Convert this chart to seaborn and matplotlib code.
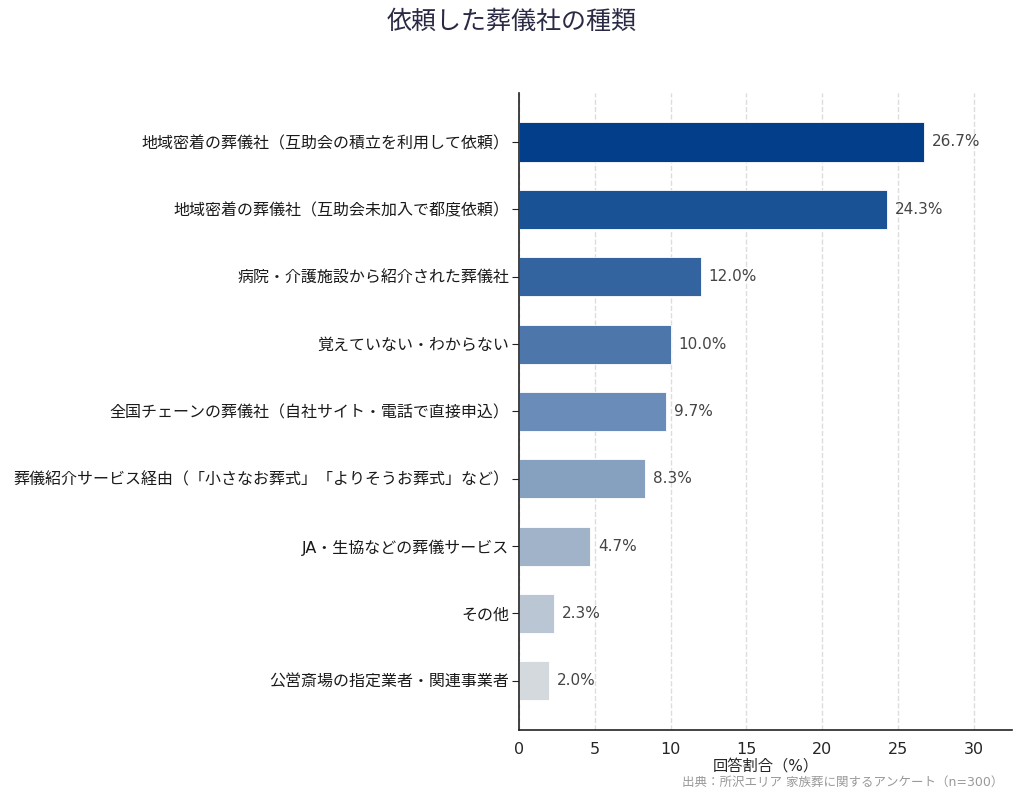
import seaborn as sns
import matplotlib.pyplot as plt
import pandas as pd

# data
categories = [
    '地域密着の葬儀社（互助会の積立を利用して依頼）',
    '地域密着の葬儀社（互助会未加入で都度依頼）',
    '病院・介護施設から紹介された葬儀社',
    '覚えていない・わからない',
    '全国チェーンの葬儀社（自社サイト・電話で直接申込）',
    '葬儀紹介サービス経由（「小さなお葬式」「よりそうお葬式」など）',
    'JA・生協などの葬儀サービス',
    'その他',
    '公営斎場の指定業者・関連事業者',
]
values = [26.7, 24.3, 12.0, 10.0, 9.7, 8.3, 4.7, 2.3, 2.0]
colors = ['#023e8a', '#1a5296', '#3464a0', '#4d77aa', '#6a8cb8',
          '#86a0bf', '#a0b3c9', '#bac6d3', '#d3d9dc']

df = pd.DataFrame({'category': categories, 'value': values})

sns.set_style('white')
plt.rcParams['font.family'] = ['DejaVu Sans', 'Noto Sans CJK JP']

fig = plt.figure(figsize=(10.24, 8), dpi=100)
ax = fig.add_axes([0.507, 0.0875, 0.481, 0.7965])

sns.barplot(data=df, x='value', y='category', hue='category', palette=colors,
            saturation=1, legend=False, width=0.58, edgecolor='white',
            linewidth=0.6, ax=ax)

for i, v in enumerate(values):
    ax.text(v + 0.5, i, f'{v:.1f}%', va='center', ha='left', fontsize=11, color='#444444')

ax.set_xlim(0, 32.5)
ax.set_ylim(len(values) - 1 + 0.73, -0.73)
ax.set_xticks([0, 5, 10, 15, 20, 25, 30])
ax.tick_params(axis='x', labelsize=11.5, length=5, color='#222222')
ax.tick_params(axis='y', labelsize=11.5, length=5, pad=2, color='#222222',
               labelcolor='#1a1a1a', left=True)
ax.set_ylabel('')
ax.set_xlabel('回答割合（%）', fontsize=11, labelpad=1)
ax.xaxis.grid(True, linestyle='--', color='#dddddd', linewidth=1)
ax.set_axisbelow(True)
sns.despine(ax=ax)
for s in ['left', 'bottom']:
    ax.spines[s].set_color('#222222')
    ax.spines[s].set_linewidth(1.2)

fig.text(0.5, 0.973, '依頼した葬儀社の種類', ha='center', va='center', fontsize=18, color='#2a2a45')
fig.text(0.98, 0.022, '出典：所沢エリア 家族葬に関するアンケート（n=300）', ha='right', va='center',
         fontsize=9, color='#999999')

fig.savefig('out.png', dpi=100)
